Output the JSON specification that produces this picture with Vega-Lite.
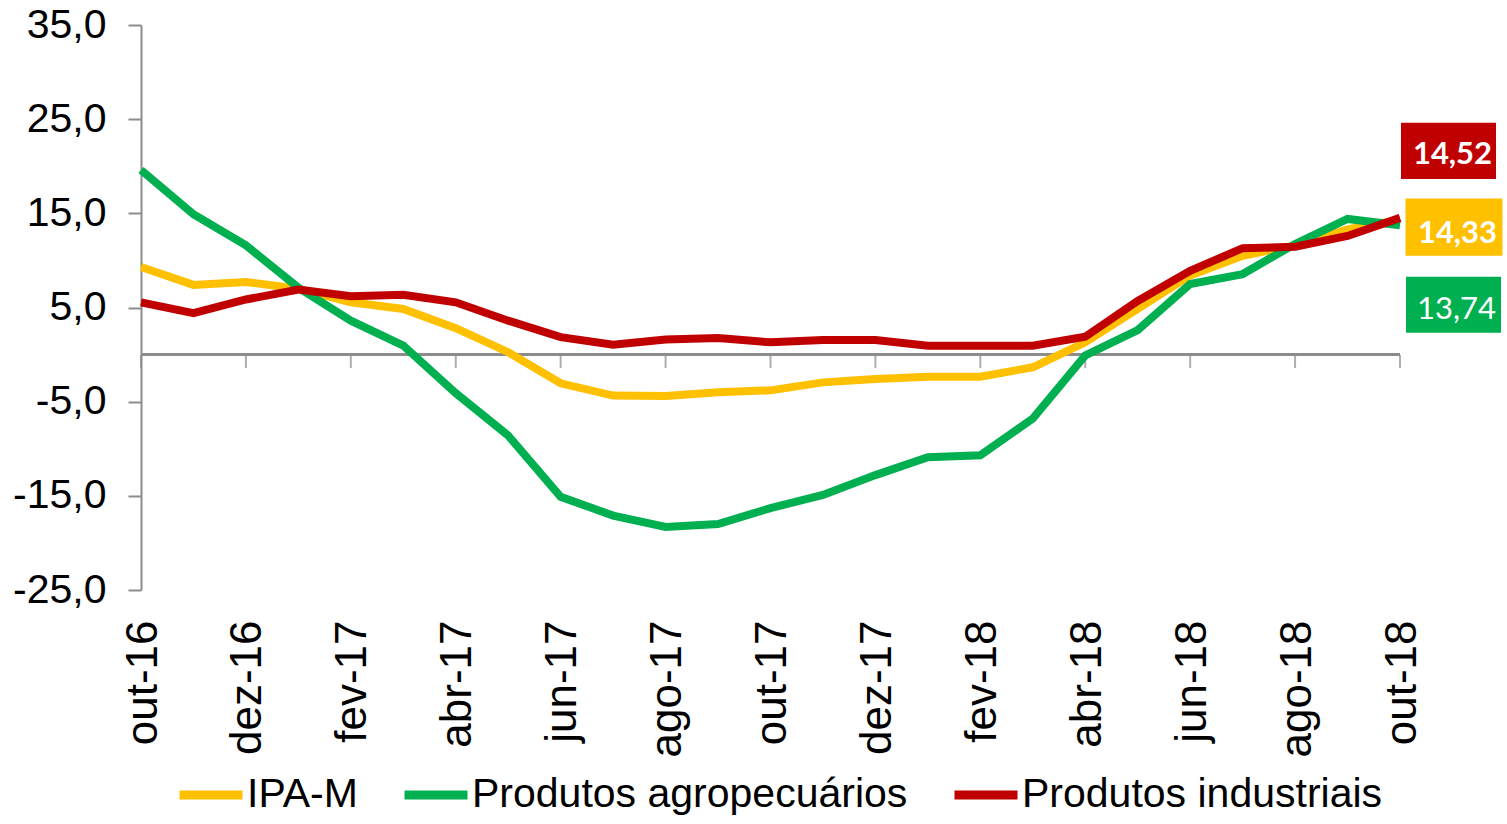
{
  "$schema": "https://vega.github.io/schema/vega-lite/v6.json",
  "width": 1259,
  "height": 565,
  "autosize": {"type": "none"},
  "padding": {"left": 141, "top": 25, "right": 107, "bottom": 234},
  "background": "white",
  "config": {"view": {"stroke": null}, "font": "Liberation Sans"},
  "datasets": {
    "series": [
      {"mes": "out-16", "serie": "IPA-M", "valor": 9.3},
      {"mes": "nov-16", "serie": "IPA-M", "valor": 7.4},
      {"mes": "dez-16", "serie": "IPA-M", "valor": 7.7},
      {"mes": "jan-17", "serie": "IPA-M", "valor": 7.0},
      {"mes": "fev-17", "serie": "IPA-M", "valor": 5.55},
      {"mes": "mar-17", "serie": "IPA-M", "valor": 4.85},
      {"mes": "abr-17", "serie": "IPA-M", "valor": 2.8},
      {"mes": "mai-17", "serie": "IPA-M", "valor": 0.25},
      {"mes": "jun-17", "serie": "IPA-M", "valor": -3.05},
      {"mes": "jul-17", "serie": "IPA-M", "valor": -4.35},
      {"mes": "ago-17", "serie": "IPA-M", "valor": -4.4},
      {"mes": "set-17", "serie": "IPA-M", "valor": -4.0},
      {"mes": "out-17", "serie": "IPA-M", "valor": -3.8},
      {"mes": "nov-17", "serie": "IPA-M", "valor": -2.95},
      {"mes": "dez-17", "serie": "IPA-M", "valor": -2.6},
      {"mes": "jan-18", "serie": "IPA-M", "valor": -2.35},
      {"mes": "fev-18", "serie": "IPA-M", "valor": -2.35},
      {"mes": "mar-18", "serie": "IPA-M", "valor": -1.35},
      {"mes": "abr-18", "serie": "IPA-M", "valor": 1.3},
      {"mes": "mai-18", "serie": "IPA-M", "valor": 4.85},
      {"mes": "jun-18", "serie": "IPA-M", "valor": 8.4},
      {"mes": "jul-18", "serie": "IPA-M", "valor": 10.5},
      {"mes": "ago-18", "serie": "IPA-M", "valor": 11.6},
      {"mes": "set-18", "serie": "IPA-M", "valor": 13.3},
      {"mes": "out-18", "serie": "IPA-M", "valor": 14.33},
      {"mes": "out-16", "serie": "Produtos agropecuários", "valor": 19.6},
      {"mes": "nov-16", "serie": "Produtos agropecuários", "valor": 14.9},
      {"mes": "dez-16", "serie": "Produtos agropecuários", "valor": 11.6},
      {"mes": "jan-17", "serie": "Produtos agropecuários", "valor": 7.1},
      {"mes": "fev-17", "serie": "Produtos agropecuários", "valor": 3.6},
      {"mes": "mar-17", "serie": "Produtos agropecuários", "valor": 0.95},
      {"mes": "abr-17", "serie": "Produtos agropecuários", "valor": -4.1},
      {"mes": "mai-17", "serie": "Produtos agropecuários", "valor": -8.6},
      {"mes": "jun-17", "serie": "Produtos agropecuários", "valor": -15.1},
      {"mes": "jul-17", "serie": "Produtos agropecuários", "valor": -17.1},
      {"mes": "ago-17", "serie": "Produtos agropecuários", "valor": -18.3},
      {"mes": "set-17", "serie": "Produtos agropecuários", "valor": -18.0},
      {"mes": "out-17", "serie": "Produtos agropecuários", "valor": -16.3},
      {"mes": "nov-17", "serie": "Produtos agropecuários", "valor": -14.9},
      {"mes": "dez-17", "serie": "Produtos agropecuários", "valor": -12.8},
      {"mes": "jan-18", "serie": "Produtos agropecuários", "valor": -10.9},
      {"mes": "fev-18", "serie": "Produtos agropecuários", "valor": -10.7},
      {"mes": "mar-18", "serie": "Produtos agropecuários", "valor": -6.8},
      {"mes": "abr-18", "serie": "Produtos agropecuários", "valor": -0.1},
      {"mes": "mai-18", "serie": "Produtos agropecuários", "valor": 2.6},
      {"mes": "jun-18", "serie": "Produtos agropecuários", "valor": 7.5},
      {"mes": "jul-18", "serie": "Produtos agropecuários", "valor": 8.55},
      {"mes": "ago-18", "serie": "Produtos agropecuários", "valor": 11.75},
      {"mes": "set-18", "serie": "Produtos agropecuários", "valor": 14.4},
      {"mes": "out-18", "serie": "Produtos agropecuários", "valor": 13.74},
      {"mes": "out-16", "serie": "Produtos industriais", "valor": 5.55},
      {"mes": "nov-16", "serie": "Produtos industriais", "valor": 4.4},
      {"mes": "dez-16", "serie": "Produtos industriais", "valor": 5.85},
      {"mes": "jan-17", "serie": "Produtos industriais", "valor": 6.9},
      {"mes": "fev-17", "serie": "Produtos industriais", "valor": 6.2},
      {"mes": "mar-17", "serie": "Produtos industriais", "valor": 6.35},
      {"mes": "abr-17", "serie": "Produtos industriais", "valor": 5.55},
      {"mes": "mai-17", "serie": "Produtos industriais", "valor": 3.6},
      {"mes": "jun-17", "serie": "Produtos industriais", "valor": 1.85},
      {"mes": "jul-17", "serie": "Produtos industriais", "valor": 1.05},
      {"mes": "ago-17", "serie": "Produtos industriais", "valor": 1.6},
      {"mes": "set-17", "serie": "Produtos industriais", "valor": 1.75},
      {"mes": "out-17", "serie": "Produtos industriais", "valor": 1.3},
      {"mes": "nov-17", "serie": "Produtos industriais", "valor": 1.55},
      {"mes": "dez-17", "serie": "Produtos industriais", "valor": 1.55},
      {"mes": "jan-18", "serie": "Produtos industriais", "valor": 0.95},
      {"mes": "fev-18", "serie": "Produtos industriais", "valor": 0.95},
      {"mes": "mar-18", "serie": "Produtos industriais", "valor": 0.95},
      {"mes": "abr-18", "serie": "Produtos industriais", "valor": 1.9},
      {"mes": "mai-18", "serie": "Produtos industriais", "valor": 5.7},
      {"mes": "jun-18", "serie": "Produtos industriais", "valor": 8.9},
      {"mes": "jul-18", "serie": "Produtos industriais", "valor": 11.3},
      {"mes": "ago-18", "serie": "Produtos industriais", "valor": 11.45},
      {"mes": "set-18", "serie": "Produtos industriais", "valor": 12.6},
      {"mes": "out-18", "serie": "Produtos industriais", "valor": 14.52}
    ]
  },
  "data": {"name": "series"},
  "encoding": {
    "x": {
      "field": "mes",
      "type": "ordinal",
      "scale": {
        "type": "point",
        "padding": 0,
        "domain": ["out-16","nov-16","dez-16","jan-17","fev-17","mar-17","abr-17","mai-17","jun-17","jul-17","ago-17","set-17","out-17","nov-17","dez-17","jan-18","fev-18","mar-18","abr-18","mai-18","jun-18","jul-18","ago-18","set-18","out-18"]
      },
      "axis": {
        "title": null,
        "values": ["out-16","dez-16","fev-17","abr-17","jun-17","ago-17","out-17","dez-17","fev-18","abr-18","jun-18","ago-18","out-18"],
        "labelAngle": -90,
        "labelAlign": "right",
        "labelBaseline": "middle",
        "labelFont": "Liberation Sans",
        "labelFontSize": 44,
        "labelColor": "#000000",
        "labelPadding": 30,
        "labelOffset": 2,
        "labelOverlap": false,
        "domain": false,
        "ticks": false,
        "grid": false
      }
    },
    "y": {
      "field": "valor",
      "type": "quantitative",
      "scale": {"domain": [-25, 35], "nice": false, "zero": false},
      "axis": {
        "title": null,
        "values": [-25, -15, -5, 5, 15, 25, 35],
        "labelExpr": "(datum.value < 0 ? '-' : '') + replace(format(abs(datum.value), '.1f'), '.', ',')",
        "labelFont": "Liberation Sans",
        "labelFontSize": 41,
        "labelColor": "#000000",
        "labelPadding": 22,
        "labelOverlap": false,
        "domainColor": "#8c8c8c",
        "domainWidth": 2,
        "tickColor": "#8c8c8c",
        "tickWidth": 2,
        "tickSize": 13,
        "grid": false
      }
    }
  },
  "layer": [
    {
      "mark": {"type": "rule", "color": "#8c8c8c", "strokeWidth": 2.5},
      "encoding": {"y": {"datum": 0}, "x": {"value": 0}, "x2": {"value": 1259}}
    },
    {
      "transform": [
        {"filter": {"field": "serie", "equal": "IPA-M"}},
        {"filter": {"field": "mes", "oneOf": ["out-16","dez-16","fev-17","abr-17","jun-17","ago-17","out-17","dez-17","fev-18","abr-18","jun-18","ago-18","out-18"]}}
      ],
      "mark": {"type": "tick", "orient": "vertical", "size": 13, "thickness": 2, "color": "#8c8c8c", "yOffset": 7},
      "encoding": {"y": {"datum": 0}}
    },
    {
      "mark": {"type": "line", "strokeWidth": 8},
      "encoding": {
        "color": {
          "field": "serie",
          "type": "nominal",
          "scale": {
            "domain": ["IPA-M", "Produtos agropecuários", "Produtos industriais"],
            "range": ["#FFC000", "#00B050", "#C00000"]
          },
          "legend": {
            "title": null,
            "orient": "none",
            "legendX": 34,
            "legendY": 734,
            "direction": "horizontal",
            "padding": 0,
            "symbolType": "stroke",
            "symbolSize": 3969,
            "symbolStrokeWidth": 9,
            "labelFont": "Liberation Sans",
            "labelFontSize": 41,
            "labelColor": "#000000",
            "labelOffset": 0,
            "columnPadding": 28,
            "labelLimit": 1000
          }
        }
      }
    },
    {
      "transform": [{"filter": {"field": "serie", "equal": "Produtos industriais"}}, {"filter": {"field": "mes", "equal": "out-18"}}],
      "mark": {"type": "point", "shape": "M-1,-0.59L1,-0.59L1,0.59L-1,0.59Z", "filled": true, "opacity": 1, "size": 9025, "color": "#C00000", "xOffset": 48.5, "yOffset": -67}
    },
    {
      "transform": [{"filter": {"field": "serie", "equal": "IPA-M"}}, {"filter": {"field": "mes", "equal": "out-18"}}],
      "mark": {"type": "point", "shape": "M-1,-0.59L1,-0.59L1,0.59L-1,0.59Z", "filled": true, "opacity": 1, "size": 9409, "color": "#FFC000", "xOffset": 54, "yOffset": 7.4}
    },
    {
      "transform": [{"filter": {"field": "serie", "equal": "Produtos agropecuários"}}, {"filter": {"field": "mes", "equal": "out-18"}}],
      "mark": {"type": "point", "shape": "M-1,-0.59L1,-0.59L1,0.59L-1,0.59Z", "filled": true, "opacity": 1, "size": 9025, "color": "#00B050", "xOffset": 53.5, "yOffset": 79.5}
    },
    {
      "transform": [{"filter": {"field": "serie", "equal": "Produtos industriais"}}, {"filter": {"field": "mes", "equal": "out-18"}}, {"calculate": "replace(format(datum.valor, '.2f'), '.', ',')", "as": "rotulo"}],
      "mark": {"type": "text", "font": "Lato", "fontWeight": "bold", "fontSize": 31, "color": "#FFFFFF", "align": "center", "baseline": "middle", "dx": 52.5, "dy": -63},
      "encoding": {"text": {"field": "rotulo", "type": "nominal"}}
    },
    {
      "transform": [{"filter": {"field": "serie", "equal": "IPA-M"}}, {"filter": {"field": "mes", "equal": "out-18"}}, {"calculate": "replace(format(datum.valor, '.2f'), '.', ',')", "as": "rotulo"}],
      "mark": {"type": "text", "font": "Lato", "fontWeight": "bold", "fontSize": 31, "color": "#FFFFFF", "align": "center", "baseline": "middle", "dx": 57.5, "dy": 14},
      "encoding": {"text": {"field": "rotulo", "type": "nominal"}}
    },
    {
      "transform": [{"filter": {"field": "serie", "equal": "Produtos agropecuários"}}, {"filter": {"field": "mes", "equal": "out-18"}}, {"calculate": "replace(format(datum.valor, '.2f'), '.', ',')", "as": "rotulo"}],
      "mark": {"type": "text", "font": "Lato", "fontWeight": "normal", "fontSize": 31, "color": "#FFFFFF", "align": "center", "baseline": "middle", "dx": 56.5, "dy": 85},
      "encoding": {"text": {"field": "rotulo", "type": "nominal"}}
    }
  ]
}
